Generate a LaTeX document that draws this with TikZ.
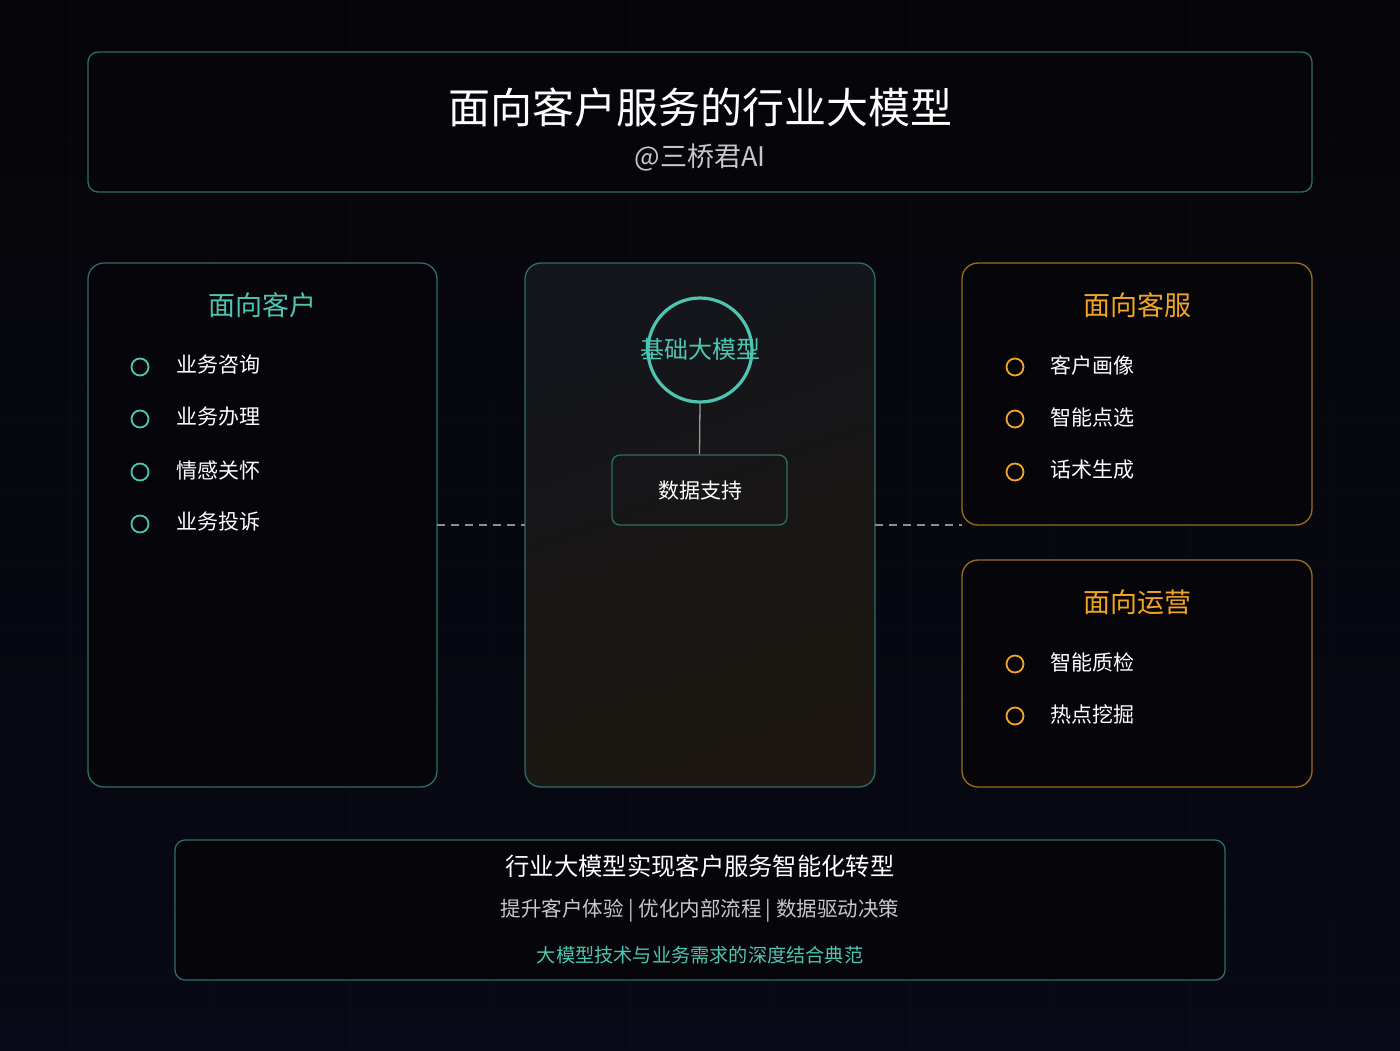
\documentclass[tikz,border=0pt]{standalone}
\usepackage{fontspec}
\setmainfont{Noto Sans CJK SC}
\newfontfamily\cjk{Noto Sans CJK SC}
\usetikzlibrary{calc}
\definecolor{bgtop}{HTML}{050508}
\definecolor{bgbot}{HTML}{090917}
\definecolor{tealline}{HTML}{2E6E66}
\definecolor{tealtxt}{HTML}{4EC5B1}
\definecolor{orline}{HTML}{9C6E1C}
\definecolor{ortxt}{HTML}{F2A524}
\definecolor{panelfill}{HTML}{05050A}
\definecolor{ctrA}{HTML}{14161C}
\definecolor{ctrB}{HTML}{1C1711}
\definecolor{dashc}{HTML}{8A8D92}
\definecolor{subg}{HTML}{C8C8C8}
\tikzset{
  box/.style={draw=tealline, line width=1.3pt, rounded corners=10pt, fill=panelfill, inner sep=0pt, outer sep=0pt},
  tpanel/.style={draw=tealline, line width=1.3pt, rounded corners=16pt, fill=panelfill, inner sep=0pt, outer sep=0pt},
  opanel/.style={draw=orline, line width=1.3pt, rounded corners=16pt, fill=panelfill, inner sep=0pt, outer sep=0pt},
  cpanel/.style={draw=tealline, line width=1.3pt, rounded corners=16pt, top color=ctrA, bottom color=ctrB, shading angle=20, inner sep=0pt, outer sep=0pt},
  ptitle/.style={font=\fontsize{27}{32}\selectfont, inner sep=0pt},
  item/.style={font=\fontsize{21}{25}\selectfont, text=white, anchor=west, inner sep=0pt},
  tdot/.style={circle, draw=tealtxt, line width=1.8pt, minimum size=17pt, inner sep=0pt},
  odot/.style={circle, draw=ortxt, line width=1.8pt, minimum size=17pt, inner sep=0pt},
  dashlink/.style={draw=dashc, line width=1.6pt, dash pattern=on 8pt off 6pt},
}
\begin{document}
\begin{tikzpicture}[x=1pt, y=-1pt]
\useasboundingbox (0,0) rectangle (1400,1050);
\shade[top color=bgtop, bottom color=bgbot] (0,0) rectangle (1400,1050);
% faint grid
\foreach \gx in {70,210,...,1330} {\draw[white, opacity=0.02, line width=0.8pt] (\gx,0) -- (\gx,1050);}
\foreach \gy in {70,140,...,1050} {\draw[white, opacity=0.015, line width=0.8pt] (0,\gy) -- (1400,\gy);}

% title box
\node[box, minimum width=1224pt, minimum height=140pt] (T) at (700,122) {};
\node[font=\fontsize{42}{48}\selectfont, text=white, inner sep=0pt] (title) at (700,107) {面向客户服务的行业大模型};
\node[font=\fontsize{27}{32}\selectfont, text=subg, inner sep=0pt] (sub) at (700,157) {@三桥君AI};

% left panel
\node[tpanel, minimum width=349pt, minimum height=524pt] (L) at (262.5,525) {};
\node[ptitle, text=tealtxt] (Lt) at (262,305) {面向客户};
\node[tdot] (l1) at (140,367) {}; \node[item] (l1t) at (176,365) {业务咨询};
\node[tdot] (l2) at (140,419) {}; \node[item] (l2t) at (176,417) {业务办理};
\node[tdot] (l3) at (140,472) {}; \node[item] (l3t) at (176,470) {情感关怀};
\node[tdot] (l4) at (140,524) {}; \node[item] (l4t) at (176,522) {业务投诉};

% center panel
\node[cpanel, minimum width=350pt, minimum height=524pt] (C) at (700,525) {};
\node[circle, draw=tealtxt, line width=3.2pt, minimum size=104pt, inner sep=0pt] (M) at (700,350) {};
\node[font=\fontsize{24}{28}\selectfont, text=tealtxt, inner sep=0pt] (Mt) at (700,349) {基础大模型};
\node[draw=tealline, line width=1.3pt, rounded corners=8pt, minimum width=175pt, minimum height=70pt, inner sep=0pt] (D) at (699.5,490) {};
\node[font=\fontsize{21}{25}\selectfont, text=white, inner sep=0pt] (Dt) at (700,491) {数据支持};
\draw[draw=gray!80, line width=1.3pt] (M.south) -- (D.north);

% right panels
\node[opanel, minimum width=350pt, minimum height=262pt] (R1) at (1137,394) {};
\node[ptitle, text=ortxt] (R1t) at (1137,305) {面向客服};
\node[odot] (r1) at (1015,367) {}; \node[item] (r1t) at (1050,365) {客户画像};
\node[odot] (r2) at (1015,419) {}; \node[item] (r2t) at (1050,417) {智能点选};
\node[odot] (r3) at (1015,472) {}; \node[item] (r3t) at (1050,470) {话术生成};

\node[opanel, minimum width=350pt, minimum height=227pt] (R2) at (1137,673.5) {};
\node[ptitle, text=ortxt] (R2t) at (1137,602) {面向运营};
\node[odot] (s1) at (1015,664) {}; \node[item] (s1t) at (1050,662) {智能质检};
\node[odot] (s2) at (1015,716) {}; \node[item] (s2t) at (1050,714) {热点挖掘};

% dashed links
\draw[dashlink] (L.east |- R1.south) -- (C.west |- R1.south);
\draw[dashlink] (C.east |- R1.south) -- (R1.south west);

% bottom box
\node[box, minimum width=1050pt, minimum height=140pt] (B) at (700,910) {};
\node[font=\fontsize{24.3}{28}\selectfont, text=white, inner sep=0pt] (b1) at (700,866) {行业大模型实现客户服务智能化转型};
\node[font=\fontsize{20.5}{24}\selectfont, text=subg, inner sep=0pt] (b2) at (700,911) {提升客户体验\hspace{4.5pt}|\hspace{4.5pt}优化内部流程\hspace{4.5pt}|\hspace{4.5pt}数据驱动决策};
\node[font=\fontsize{19.2}{23}\selectfont, text=tealtxt, inner sep=0pt] (b3) at (700,955) {大模型技术与业务需求的深度结合典范};
\end{tikzpicture}
\end{document}
